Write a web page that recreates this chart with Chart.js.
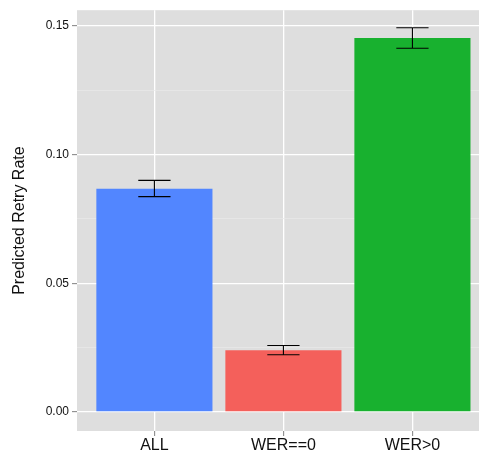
<!DOCTYPE html>
<html>
<head>
<meta charset="utf-8">
<script src="https://cdn.jsdelivr.net/npm/chart.js@4"></script>
<style>
  html, body { margin: 0; padding: 0; background: #fff; overflow: hidden; }
  #wrap { width: 479px; height: 452px; }
</style>
</head>
<body>
<div id="wrap"><canvas id="retryChart" width="479" height="452"></canvas></div>
<script>
// Data
const categories = ['ALL', 'WER==0', 'WER>0'];
const retryRate = [0.0868, 0.0239, 0.1454];
const ciLower = [0.0837, 0.0222, 0.1414];
const ciUpper = [0.0900, 0.0258, 0.1494];
const barColors = ['#5286FF', '#F4605B', '#18B12F'];
const yTicks = [0, 0.025, 0.05, 0.075, 0.10, 0.125, 0.15];
const yMajor = [0, 0.05, 0.10, 0.15];

const FONT = 'Liberation Sans, Arial, Helvetica, sans-serif';

function isMajor(v) {
    return yMajor.some(m => Math.abs(m - v) < 1e-9);
}

// grey ggplot-like panel behind everything
const panelBackground = {
    id: 'panelBackground',
    beforeDraw(chart) {
        const { ctx, chartArea } = chart;
        ctx.save();
        ctx.fillStyle = '#DEDEDE';
        ctx.fillRect(chartArea.left, chartArea.top, chartArea.right - chartArea.left, chartArea.bottom - chartArea.top);
        ctx.restore();
    }
};

// error bars drawn on top of the bars
const errorBars = {
    id: 'errorBars',
    afterDatasetsDraw(chart) {
        const { ctx, scales } = chart;
        ctx.save();
        ctx.strokeStyle = '#000';
        ctx.lineWidth = 1.1;
        categories.forEach((c, i) => {
            const xc = scales.x.getPixelForValue(i);
            const x0 = scales.x.getPixelForValue(i - 0.125);
            const x1 = scales.x.getPixelForValue(i + 0.125);
            const yl = scales.y.getPixelForValue(ciLower[i]);
            const yu = scales.y.getPixelForValue(ciUpper[i]);
            ctx.beginPath();
            ctx.moveTo(x0, yu); ctx.lineTo(x1, yu);
            ctx.moveTo(x0, yl); ctx.lineTo(x1, yl);
            ctx.moveTo(xc, yu); ctx.lineTo(xc, yl);
            ctx.stroke();
        });
        ctx.restore();
    }
};

document.addEventListener('DOMContentLoaded', function() {
    const ctx = document.getElementById('retryChart').getContext('2d');
    new Chart(ctx, {
        type: 'bar',
        data: {
            datasets: [{
                data: categories.map((c, i) => ({ x: i, y: retryRate[i] })),
                backgroundColor: barColors,
                borderWidth: 0,
                barPercentage: 0.9,
                categoryPercentage: 1
            }]
        },
        options: {
            responsive: false,
            animation: false,
            layout: { padding: { top: 8, left: 0, right: 0, bottom: 0 } },
            plugins: {
                legend: { display: false },
                tooltip: { enabled: false }
            },
            scales: {
                x: {
                    type: 'linear',
                    offset: false,
                    min: -0.6,
                    max: 2.516,
                    afterBuildTicks: scale => {
                        scale.ticks = categories.map((c, i) => ({ value: i }));
                    },
                    afterFit: scale => { scale.height = 21; },
                    border: { display: false },
                    grid: {
                        offset: false,
                        color: '#FFFFFF',
                        lineWidth: 1.3,
                        drawTicks: true,
                        tickLength: 5,
                        tickColor: '#808080',
                        tickWidth: 1
                    },
                    ticks: {
                        padding: 0,
                        color: '#111',
                        font: { family: FONT, size: 16 },
                        maxRotation: 0,
                        callback: v => categories[v]
                    }
                },
                y: {
                    min: -0.00747,
                    max: 0.1562,
                    afterBuildTicks: scale => {
                        scale.ticks = yTicks.map(v => ({ value: v }));
                    },
                    afterFit: scale => { scale.width = 77; },
                    border: { display: false },
                    grid: {
                        color: c => isMajor(c.tick.value) ? '#FFFFFF' : '#EAEAEA',
                        lineWidth: c => isMajor(c.tick.value) ? 1.3 : 0.7,
                        drawTicks: true,
                        tickLength: 5,
                        tickColor: c => isMajor(c.tick.value) ? '#808080' : 'rgba(0,0,0,0)',
                        tickWidth: 1
                    },
                    ticks: {
                        padding: 3,
                        color: '#111',
                        font: { family: FONT, size: 12 },
                        callback: v => isMajor(v) ? v.toFixed(2) : ''
                    },
                    title: {
                        display: true,
                        text: 'Predicted Retry Rate',
                        color: '#111',
                        font: { family: FONT, size: 16 },
                        padding: { top: 10, bottom: 0 }
                    }
                }
            }
        },
        plugins: [panelBackground, errorBars]
    });
});
</script>
</body>
</html>
